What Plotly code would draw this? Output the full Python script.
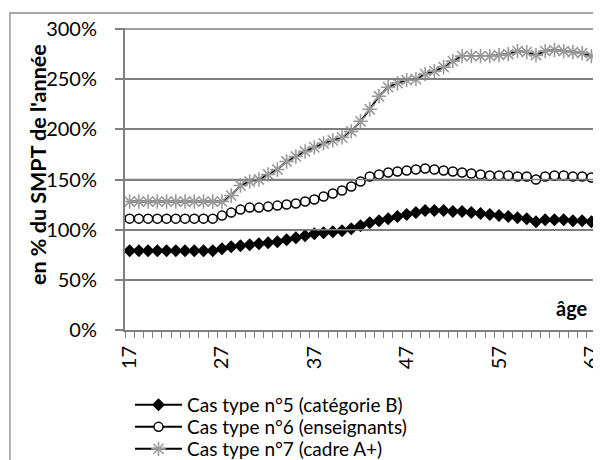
import plotly.graph_objects as go

ages = list(range(17, 68))
age_ticks = [17, 27, 37, 47, 57, 67]
pct_ticks = [0, 50, 100, 150, 200, 250, 300]

cas5 = [79, 79, 79, 79, 79, 79, 79, 79, 79, 79, 81, 83, 84, 85, 86, 87, 88, 90, 92, 94,
        96, 97, 98, 99, 101, 104, 107, 109, 111, 113, 115, 117, 119, 119, 119, 118, 118, 117, 116, 115,
        114, 113, 112, 111, 108, 110, 110, 110, 109, 109, 108]
cas6 = [111, 111, 111, 111, 111, 111, 111, 111, 111, 111, 114, 117, 120, 122, 122, 123, 124, 125, 126, 128,
        130, 133, 136, 139, 143, 148, 153, 155, 157, 158, 159, 160, 161, 160, 159, 158, 157, 156, 155, 154,
        154, 154, 153, 153, 150, 153, 154, 154, 153, 153, 152]
cas7 = [128, 128, 128, 128, 128, 128, 128, 128, 128, 128, 128, 134, 144, 148, 150, 155, 160, 168, 173, 178,
        182, 186, 189, 192, 198, 208, 220, 233, 242, 246, 249, 250, 255, 258, 262, 268, 273, 273, 273, 273,
        274, 275, 278, 277, 274, 278, 279, 278, 277, 276, 273]

names = ["Cas type n°5 (catégorie B)", "Cas type n°6 (enseignants)", "Cas type n°7 (cadre A+)"]

FONT = "Lato"
OFF = 8  # page body margin
W, H = 601 - OFF, 460 - OFF
L, T, R, B = 117, 20, 5, 130
PW, PH = W - L - R, H - T - B
GRID = "#7f7f7f"


def px(xp):
    return (xp - OFF - L) / PW


def py(yp):
    return (H - B - (yp - OFF)) / PH


fig = go.Figure()
fig.add_trace(go.Scatter(
    x=ages, y=cas5, name=names[0], mode="lines+markers", legend="legend",
    line=dict(color="black", width=2),
    marker=dict(symbol="diamond", size=10, color="black", line=dict(width=0)),
))
fig.add_trace(go.Scatter(
    x=ages, y=cas6, name=names[1], mode="lines+markers", legend="legend2",
    line=dict(color="black", width=2),
    marker=dict(symbol="circle", size=9, color="white", line=dict(color="black", width=1.5)),
))
fig.add_trace(go.Scatter(
    x=ages, y=cas7, name=names[2], mode="lines+markers", legend="legend3",
    line=dict(color="black", width=2),
    marker=dict(symbol="asterisk-open", size=12, color="#9a9a9a", line=dict(color="#9a9a9a", width=1.6)),
))

leg_common = dict(xref="container", yref="container", xanchor="left", yanchor="middle",
                  font=dict(family=FONT, size=19, color="black"),
                  bgcolor="rgba(0,0,0,0)", itemwidth=47)
leg_y = [405, 427, 449]
legends = {}
for i, key in enumerate(["legend", "legend2", "legend3"]):
    legends[key] = dict(leg_common, x=(130 - OFF) / W, y=1 - (leg_y[i] - OFF) / H)

fig.update_layout(
    width=W, height=H,
    margin=dict(l=L, r=R, t=T, b=B, autoexpand=False),
    paper_bgcolor="white", plot_bgcolor="white",
    font=dict(family=FONT, size=20, color="black"),
    showlegend=True,
    **legends,
    xaxis=dict(
        range=[16.5, 67.5], tickmode="array", tickvals=age_ticks,
        ticktext=[str(a) for a in age_ticks], tickangle=-90,
        ticks="outside", ticklen=6, tickcolor="rgba(0,0,0,0)",
        showline=True, linecolor=GRID, linewidth=2, showgrid=False, zeroline=False,
        tickfont=dict(family=FONT, size=20), ticklabeloverflow="allow",
        minor=dict(tickmode="array", tickvals=[16.5 + i for i in range(52)],
                   ticks="outside", ticklen=6, tickcolor=GRID, tickwidth=1.2, showgrid=False),
    ),
    yaxis=dict(
        range=[0, 301], tickmode="array", tickvals=pct_ticks,
        ticktext=[f"{v}%" for v in pct_ticks],
        ticks="outside", ticklen=8, tickcolor=GRID, tickwidth=2,
        showline=True, linecolor=GRID, linewidth=2,
        showgrid=True, gridcolor=GRID, gridwidth=2, zeroline=False,
        tickfont=dict(family=FONT, size=20), ticklabelstandoff=14,
    ),
    shapes=[dict(type="rect", xref="paper", yref="paper",
                 x0=px(10), x1=px(640), y0=py(500), y1=py(13),
                 line=dict(color="#8a8a8a", width=1.3), fillcolor="rgba(0,0,0,0)", layer="above")],
    annotations=[
        dict(text="<b>en % du SMPT de l'année</b>", xref="paper", yref="paper",
             x=px(38), y=py(165), showarrow=False, textangle=-90,
             xanchor="center", yanchor="middle", font=dict(family=FONT, size=21.5)),
        dict(text="<b>âge</b>", xref="paper", yref="paper",
             x=px(572), y=py(308), showarrow=False,
             xanchor="center", yanchor="middle", font=dict(family=FONT, size=20)),
    ],
)

# horizontal gridlines at each y tick, placed through the y scale
for v in pct_ticks[1:]:
    fig.add_hline(y=v, line=dict(color=GRID, width=1.5), layer="above")

fig.write_html("out.html")
